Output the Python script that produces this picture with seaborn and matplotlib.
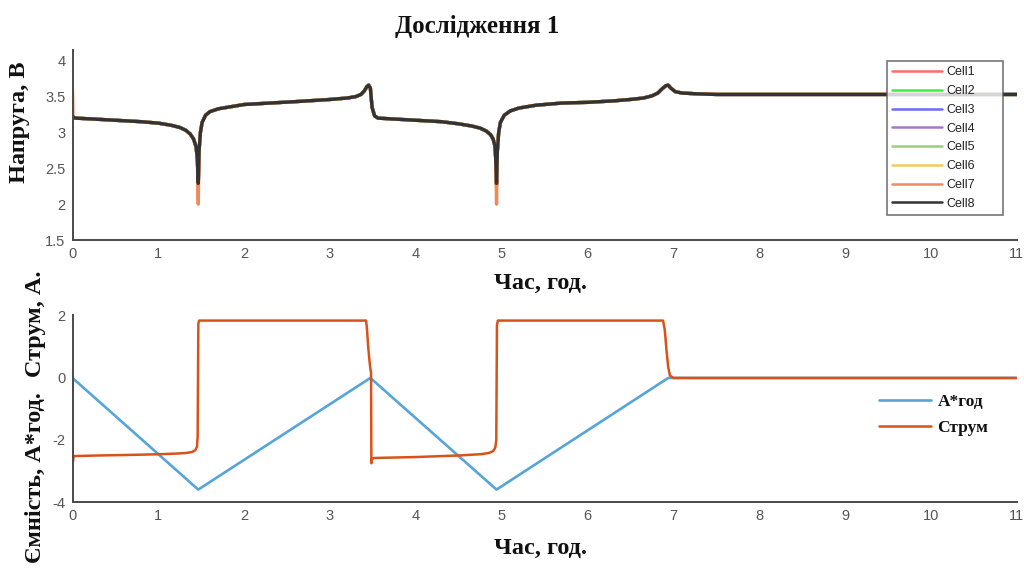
import numpy as np
import pandas as pd
import matplotlib
matplotlib.use("Agg")
import matplotlib.pyplot as plt
import seaborn as sns

# ---------------- data ----------------
# Cell voltage, hours -> volts (shared shape of the 8 cells)
volt_time = [0.0, 0.005, 0.03, 0.2, 0.5, 0.8, 1.0, 1.15, 1.25, 1.32, 1.37, 1.41, 1.44, 1.455, 1.465,
             1.475, 1.49, 1.51, 1.55, 1.6, 1.7, 1.85, 2.0, 2.3, 2.6, 3.0, 3.2, 3.3, 3.36, 3.4, 3.43,
             3.45, 3.47, 3.49, 3.52, 3.56, 3.7, 4.0, 4.3, 4.5, 4.65, 4.75, 4.82, 4.87, 4.9, 4.92, 4.93,
             4.94, 4.95, 4.965, 4.985, 5.03, 5.1, 5.2, 5.4, 5.7, 6.0, 6.3, 6.5, 6.65, 6.75, 6.82, 6.87,
             6.91, 6.94, 6.97, 7.02, 7.1, 7.25, 7.5, 8.0, 9.0, 10.0, 11.0]
volt_common = [3.22, 3.22, 3.20, 3.19, 3.17, 3.15, 3.13, 3.10, 3.07, 3.03, 2.98, 2.91, 2.80, 2.62, 2.29,
               2.75, 3.00, 3.14, 3.24, 3.29, 3.33, 3.36, 3.39, 3.41, 3.43, 3.46, 3.48, 3.50, 3.53, 3.58, 3.64,
               3.66, 3.62, 3.35, 3.23, 3.20, 3.19, 3.17, 3.15, 3.12, 3.09, 3.06, 3.02, 2.97, 2.91, 2.82, 2.65,
               2.29, 2.75, 3.00, 3.14, 3.24, 3.30, 3.34, 3.38, 3.41, 3.42, 3.44, 3.46, 3.48, 3.51, 3.55, 3.61,
               3.65, 3.66, 3.62, 3.57, 3.55, 3.54, 3.53, 3.53, 3.53, 3.53, 3.53]
dip_times = [1.465, 4.94]

cells = ["Cell1", "Cell2", "Cell3", "Cell4", "Cell5", "Cell6", "Cell7", "Cell8"]
cell_start = [3.22, 3.22, 3.22, 3.22, 3.22, 3.22, 3.60, 3.22]
cell_dip_min = [2.26, 2.27, 2.28, 2.27, 2.28, 2.27, 2.00, 2.29]
cell_colors = ["#ff6b6b", "#3fef3f", "#6b6bff", "#a577c9", "#9fcd72",
               "#f6c95a", "#ef8a5c", "#333333"]

# Pack current and capacity
cur_time = [0.0, 0.004, 0.012, 0.3, 0.7, 1.0, 1.2, 1.32, 1.39, 1.43, 1.45, 1.458, 1.466, 1.475,
            2.5, 3.42, 3.43, 3.445, 3.46, 3.47, 3.478, 3.482, 3.49, 3.52, 4.0, 4.5, 4.75, 4.85,
            4.9, 4.925, 4.937, 4.945, 4.955, 6.0, 6.88, 6.9, 6.92, 6.94, 6.96, 7.0, 11.0]
cur_vals = [0.0, -2.72, -2.52, -2.50, -2.48, -2.46, -2.44, -2.42, -2.39, -2.33, -2.22, -1.9, 1.75, 1.85,
            1.85, 1.85, 1.6, 1.0, 0.55, 0.3, 0.18, -2.75, -2.60, -2.58, -2.55, -2.50, -2.46, -2.42,
            -2.36, -2.25, -2.0, 1.7, 1.85, 1.85, 1.85, 1.55, 0.9, 0.35, 0.08, 0.0, 0.0]
cap_time = [0.0, 1.465, 3.47, 4.94, 6.94, 11.0]
cap_vals = [0.0, -3.6, 0.0, -3.6, 0.0, 0.0]

x_ticks = [0, 1, 2, 3, 4, 5, 6, 7, 8, 9, 10, 11]
v_ticks = [1.5, 2, 2.5, 3, 3.5, 4]
v_tick_labels = ["1.5", "2", "2.5", "3", "3.5", "4"]
i_ticks = [-4, -2, 0, 2]
i_tick_labels = ["-4", "-2", "0", "2"]

title_text = "Дослідження 1"
xlabel_text = "Час, год."
v_label = "Напруга, В"
cap_label = "Ємність, А*год."
cur_label = "Струм, А."
cap_legend = "А*год"
cur_legend = "Струм"

# ---------------- style ----------------
sns.set_style("white")
plt.rcParams["font.family"] = ["Liberation Sans", "DejaVu Sans"]
serif = ["Liberation Serif", "DejaVu Serif"]
tick_color = "#555555"
spine_color = "#4a4a4a"
text_color = "#111111"

W, H = 1024, 568
fig = plt.figure(figsize=(W / 100, H / 100), dpi=100)
x0, x1 = 72.5, 1016.7
ax1 = fig.add_axes([x0 / W, 1 - 240 / H, (x1 - x0) / W, 190 / H])
ax2 = fig.add_axes([x0 / W, 1 - 502 / H, (x1 - x0) / W, 187 / H])

# ---------------- voltage panel ----------------
vt = np.array(volt_time)
for name, col, start, vmin in zip(cells, cell_colors, cell_start, cell_dip_min):
    v = np.array(volt_common, dtype=float)
    v[np.isin(vt, dip_times)] = vmin
    v[0] = start
    df = pd.DataFrame({"t": vt, "v": v})
    sns.lineplot(data=df, x="t", y="v", ax=ax1, color=col, lw=2.4, label=name,
                 sort=False, estimator=None)

leg1 = ax1.legend(loc="upper left", bbox_to_anchor=(0.8625, 0.0, 0.1229, 0.94),
                  mode="expand", frameon=True, handlelength=4.0, handletextpad=0.35,
                  labelspacing=0.54, borderpad=0.4, borderaxespad=0, fancybox=False,
                  prop={"family": ["Liberation Sans"], "size": 9})
leg1.get_frame().set_edgecolor("#555555")
leg1.get_frame().set_linewidth(1.2)
for h in leg1.get_lines():
    h.set_linewidth(1.8)
for t in leg1.get_texts():
    t.set_color("#222222")

ax1.set_xlim(0, 11)
ax1.set_ylim(1.5, 4.15)
ax1.set_yticks(v_ticks)
ax1.set_yticklabels(v_tick_labels)

# ---------------- current / capacity panel ----------------
df_cap = pd.DataFrame({"t": cap_time, "c": cap_vals})
df_cur = pd.DataFrame({"t": cur_time, "i": cur_vals})
sns.lineplot(data=df_cap, x="t", y="c", ax=ax2, color="#56a5d9", lw=1.9, label=cap_legend,
             sort=False, estimator=None)
sns.lineplot(data=df_cur, x="t", y="i", ax=ax2, color="#d95319", lw=1.8, label=cur_legend,
             sort=False, estimator=None)
leg2 = ax2.legend(loc="upper left", bbox_to_anchor=(0.838, 0.66), frameon=False,
                  handlelength=3.0, handletextpad=0.35, labelspacing=0.55,
                  prop={"family": serif, "weight": "bold", "size": 12.5})
for t in leg2.get_texts():
    t.set_color(text_color)
ax2.set_xlim(0, 11)
ax2.set_ylim(-4, 2.03)
ax2.set_yticks(i_ticks)
ax2.set_yticklabels(i_tick_labels)

for ax in (ax1, ax2):
    ax.set_xticks(x_ticks)
    ax.set_xlabel("")
    ax.set_ylabel("")
    for s in ("top", "right"):
        ax.spines[s].set_visible(False)
    for s in ("left", "bottom"):
        ax.spines[s].set_color(spine_color)
        ax.spines[s].set_linewidth(1.4)
    ax.tick_params(direction="in", length=6, width=1.2, color=spine_color,
                   labelcolor=tick_color, labelsize=10.5, pad=5)
    ax.patch.set_alpha(0)

# ---------------- texts ----------------
label_kw = dict(family=serif, weight="bold", size=17.5, color=text_color)
fig.text(477 / W, 1 - 26 / H, title_text, ha="center", va="center",
         family=serif, weight="bold", size=18, color=text_color)
fig.text(541 / W, 1 - 283 / H, xlabel_text, ha="center", va="center", **label_kw)
fig.text(541 / W, 1 - 548 / H, xlabel_text, ha="center", va="center", **label_kw)
fig.text(20 / W, 1 - 122 / H, v_label, ha="center", va="center", rotation=90, **label_kw)
fig.text(35 / W, 1 - 478 / H, cap_label, ha="center", va="center", rotation=90, **label_kw)
fig.text(35 / W, 1 - 324 / H, cur_label, ha="center", va="center", rotation=90, **label_kw)

fig.savefig("out.png", dpi=100, facecolor="white")
